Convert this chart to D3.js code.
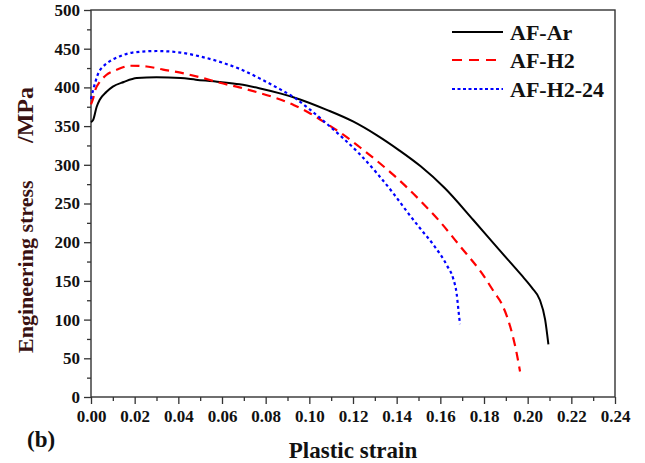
<!DOCTYPE html>
<html><head><meta charset="utf-8">
<script src="https://cdn.jsdelivr.net/npm/d3@7"></script>
<style>
body{margin:0;background:#fff;}
svg{display:block;}
text{font-family:"Liberation Serif","Times New Roman",serif;font-weight:bold;}
</style></head>
<body><svg id="c" width="645" height="463"></svg>
<script>
const seriesNames = ["AF-Ar", "AF-H2", "AF-H2-24"];
const afAr = [[0,355],[0.001,358],[0.0026,375],[0.004,384],[0.007,394],[0.010,401],[0.015,407],[0.021,412],[0.030,413],[0.041,412],[0.048,410],[0.059,407],[0.068,404],[0.077,399],[0.087,392],[0.093,387],[0.108,371],[0.120,356],[0.131,338],[0.141,319],[0.151,298],[0.162,270],[0.175,229],[0.187,190],[0.197,158],[0.202,141],[0.2055,126],[0.208,100],[0.2095,68]];
const afH2 = [[0,378],[0.0008,384],[0.002,397],[0.004,407],[0.007,416],[0.012,423],[0.018,428],[0.0255,427],[0.033,423],[0.041,419],[0.050,413],[0.059,406],[0.068,400],[0.077,393],[0.085,386],[0.093,377],[0.100,367],[0.108,353],[0.116,338],[0.123,323],[0.131,305],[0.1385,287],[0.145,270],[0.1507,254],[0.160,226],[0.169,195],[0.179,160],[0.185,134],[0.188,121],[0.192,91],[0.195,56],[0.1965,33]];
const afH224 = [[0,385],[0.001,397],[0.002,407],[0.0033,418],[0.0056,427],[0.0087,434],[0.013,440],[0.019,445],[0.030,447],[0.041,445],[0.050,440],[0.059,433],[0.068,424],[0.077,412],[0.085,400],[0.093,387],[0.100,372],[0.108,353],[0.116,333],[0.123,314],[0.131,289],[0.1385,263],[0.1446,240],[0.1507,218],[0.157,196],[0.163,170],[0.166,152],[0.1675,133],[0.1683,112],[0.169,94]];
const xTicks = [0,0.02,0.04,0.06,0.08,0.10,0.12,0.14,0.16,0.18,0.20,0.22,0.24];
const yTicks = [0,50,100,150,200,250,300,350,400,450,500];

const svg = d3.select("#c");
const L=91, R=615, T=10, B=397;
const x = d3.scaleLinear().domain([0,0.24]).range([L,R]);
const y = d3.scaleLinear().domain([0,500]).range([B,T]);

// frame
svg.append("rect").attr("x",L).attr("y",T).attr("width",R-L).attr("height",B-T)
  .attr("fill","none").attr("stroke","#333").attr("stroke-width",1.4);

// minor ticks
const xMinor = d3.range(0.01,0.24,0.02);
const yMinor = d3.range(25,500,50);
svg.append("g").attr("transform",`translate(0,${B})`)
  .call(d3.axisBottom(x).tickValues(xMinor).tickSize(4).tickFormat(""))
  .call(g=>{g.select(".domain").remove(); g.selectAll("line").attr("stroke","#333").attr("stroke-width",1.3);});
svg.append("g").attr("transform",`translate(${L},0)`)
  .call(d3.axisLeft(y).tickValues(yMinor).tickSize(4).tickFormat(""))
  .call(g=>{g.select(".domain").remove(); g.selectAll("line").attr("stroke","#333").attr("stroke-width",1.3);});

// major axes
const styleText = g => g.selectAll("text").attr("font-size",17).attr("fill","#111")
  .attr("font-family",'"Liberation Serif","Times New Roman",serif').attr("font-weight","bold");
svg.append("g").attr("transform",`translate(0,${B})`)
  .call(d3.axisBottom(x).tickValues(xTicks).tickSize(7).tickPadding(6).tickFormat(d3.format(".2f")))
  .call(g=>{g.select(".domain").remove(); g.selectAll("line").attr("stroke","#333").attr("stroke-width",1.3); styleText(g);});
svg.append("g").attr("transform",`translate(${L},0)`)
  .call(d3.axisLeft(y).tickValues(yTicks).tickSize(7).tickPadding(4))
  .call(g=>{g.select(".domain").remove(); g.selectAll("line").attr("stroke","#333").attr("stroke-width",1.3); styleText(g);});

// lines
const line = d3.line().x(d=>x(d[0])).y(d=>y(d[1])).curve(d3.curveMonotoneX);
const styles = [
  {data:afAr, color:"#000", dash:null, w:2},
  {data:afH2, color:"#ff0000", dash:"9,6", w:2.2},
  {data:afH224, color:"#0000ff", dash:"3,3", w:2.2}
];
styles.forEach(s=>{
  svg.append("path").attr("d",line(s.data)).attr("fill","none")
    .attr("stroke",s.color).attr("stroke-width",s.w).attr("stroke-dasharray",s.dash);
});

// legend
const legY = [32,60,89];
styles.forEach((s,i)=>{
  svg.append("line").attr("x1",452).attr("x2",503).attr("y1",legY[i]).attr("y2",legY[i])
    .attr("stroke",s.color).attr("stroke-width",2).attr("stroke-dasharray", i==1?"10,7":(i==2?"3,2.5":null));
  svg.append("text").attr("x",510).attr("y",legY[i]+8).attr("font-size",22).attr("fill","#111").text(seriesNames[i]);
});

// axis titles
svg.append("text").attr("x",(L+R)/2).attr("y",458).attr("text-anchor","middle")
  .attr("font-size",23).attr("fill","#111").text("Plastic strain");
svg.append("text").attr("transform","translate(33,353) rotate(-90)").attr("text-anchor","start")
  .attr("font-size",22).attr("fill","#3a1212").text("Engineering stress");
svg.append("text").attr("transform","translate(33,143) rotate(-90)").attr("text-anchor","start")
  .attr("font-size",24).attr("fill","#3a1212").text("/MPa");
svg.append("text").attr("x",27).attr("y",447).attr("font-size",23).attr("fill","#111").text("(b)");
</script></body></html>
